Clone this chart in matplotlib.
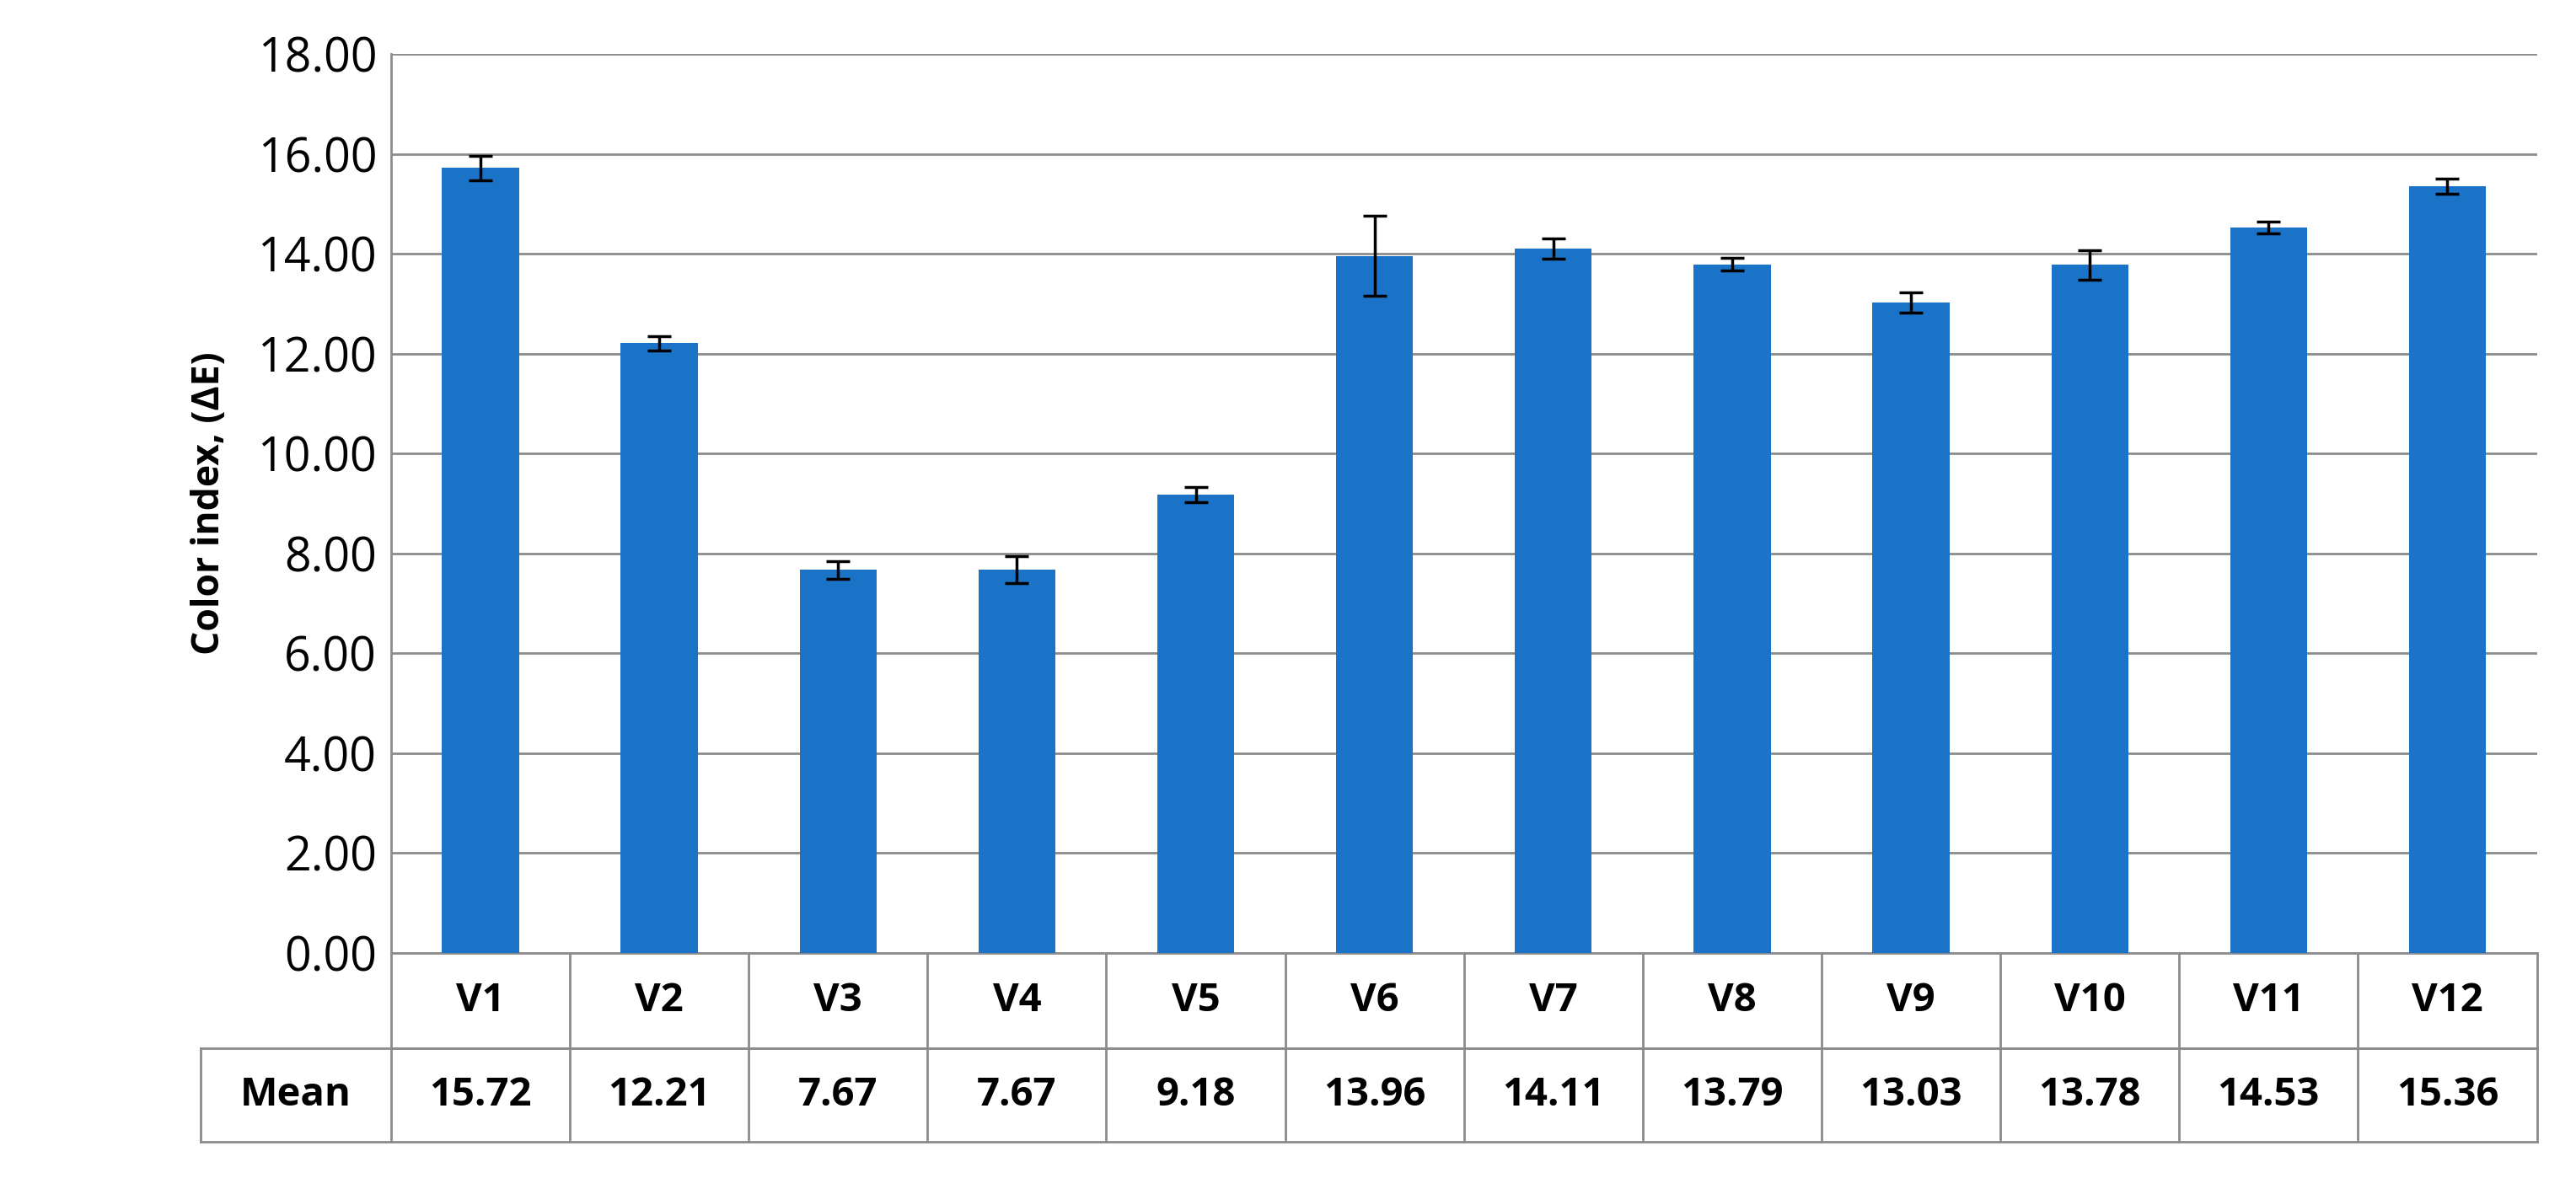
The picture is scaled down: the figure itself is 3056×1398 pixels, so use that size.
import matplotlib
matplotlib.use("Agg")
import matplotlib.pyplot as plt
from matplotlib.lines import Line2D

categories = ["V1","V2","V3","V4","V5","V6","V7","V8","V9","V10","V11","V12"]
means = [15.72,12.21,7.67,7.67,9.18,13.96,14.11,13.79,13.03,13.78,14.53,15.36]
errors = [0.25,0.15,0.17,0.27,0.15,0.8,0.2,0.13,0.2,0.3,0.12,0.15]
yticks = [0,2,4,6,8,10,12,14,16,18]

plt.rcParams['font.family'] = ['Open Sans', 'DejaVu Sans']
fig = plt.figure(figsize=(30.56, 13.98), dpi=100)
ax = fig.add_axes([0.1518, 0.191, 0.833, 0.763])
n = len(categories)
x = list(range(n))
ax.bar(x, means, width=0.43, color="#1B73C8", zorder=3)
ax.errorbar(x, means, yerr=errors, fmt="none", ecolor="black", elinewidth=2.5,
            capsize=10, capthick=2.5, zorder=4)
ax.set_xlim(-0.5, n - 0.5)
ax.set_ylim(0, 18)
ax.set_yticks(yticks)
ax.set_yticklabels([f"{v:.2f}" for v in yticks], fontsize=40)
ax.tick_params(axis='y', length=0, pad=12)
ax.set_xticks([])
ax.grid(axis='y', color="#8c8c8c", linewidth=2, zorder=0)
for s in ["top", "right", "bottom"]:
    ax.spines[s].set_visible(False)
ax.spines["left"].set_color("#8c8c8c")
ax.spines["left"].set_linewidth(2)
ax.set_ylabel("Color index, (ΔE)", fontsize=32, fontweight="bold", labelpad=25)

# table
t = ax.transAxes
r1, r2 = -0.106, -0.210
lx = -0.0888
kw = dict(color="#8c8c8c", linewidth=2, transform=t, clip_on=False)
ax.add_line(Line2D([0, 1], [0, 0], **kw))
ax.add_line(Line2D([0, 1], [r1, r1], **kw))
ax.add_line(Line2D([lx, 1], [r1, r1], **kw))
ax.add_line(Line2D([lx, 1], [r2, r2], **kw))
ax.add_line(Line2D([lx, lx], [r1, r2], **kw))
for i in range(n + 1):
    xx = i / n
    ax.add_line(Line2D([xx, xx], [0, r2], **kw))
for i in range(n):
    xc = (i + 0.5) / n
    ax.text(xc, r1 / 2, categories[i], transform=t, ha="center", va="center",
            fontsize=34, fontweight="bold")
    ax.text(xc, (r1 + r2) / 2, f"{means[i]:.2f}", transform=t, ha="center",
            va="center", fontsize=34, fontweight="bold")
ax.text(lx / 2, (r1 + r2) / 2, "Mean", transform=t, ha="center", va="center",
        fontsize=34, fontweight="bold")
fig.savefig("out.png", dpi=100)
